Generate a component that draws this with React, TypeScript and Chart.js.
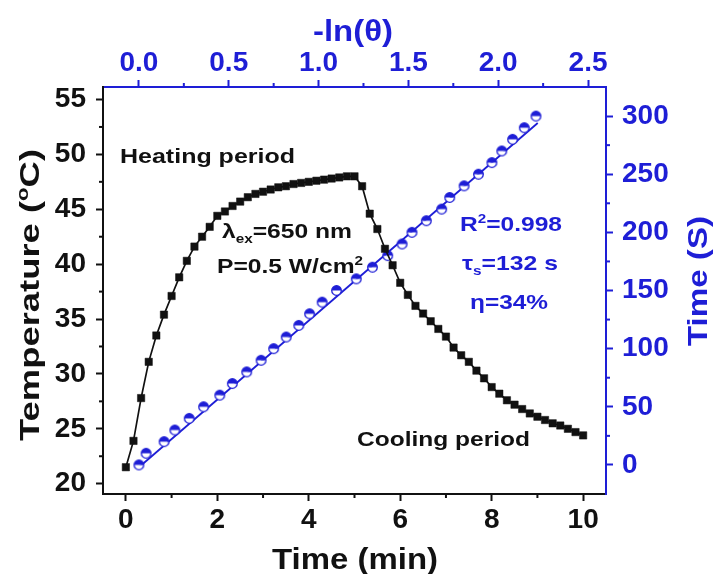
import React, { useEffect, useRef } from "react";
import { Chart, registerables } from "chart.js";
Chart.register(...registerables);

// ---------- data ----------
const timeSec = [
  0, 10, 20, 30, 40, 50, 60, 70, 80, 90, 100, 110, 120, 130, 140, 150, 160, 170, 180, 190, 200,
  210, 220, 230, 240, 250, 260, 270, 280, 290, 300, 310, 320, 330, 340, 350, 360, 370, 380, 390,
  400, 410, 420, 430, 440, 450, 460, 470, 480, 490, 500, 510, 520, 530, 540, 550, 560, 570, 580,
  590, 600,
];
const temperature = [
  21.5, 23.9, 27.8, 31.1, 33.5, 35.4, 37.1, 38.8, 40.3, 41.6, 42.5, 43.4, 44.4, 44.8, 45.3, 45.7,
  46.1, 46.4, 46.6, 46.8, 47.0, 47.1, 47.3, 47.4, 47.5, 47.6, 47.7, 47.8, 47.9, 48.0, 48.0,
  47.1, 44.6, 43.2, 41.4, 39.9, 38.3, 37.2, 36.2, 35.5, 34.8, 34.1, 33.4, 32.4, 31.7, 31.1, 30.3,
  29.6, 28.8, 28.2, 27.6, 27.2, 26.8, 26.4, 26.1, 25.8, 25.5, 25.3, 25.0, 24.7, 24.4,
];
const negLnTheta = [
  0.0, 0.04, 0.14, 0.2, 0.28, 0.36, 0.45, 0.52, 0.6, 0.68, 0.75, 0.82, 0.89, 0.95, 1.02, 1.1,
  1.21, 1.3, 1.385, 1.465, 1.52, 1.6, 1.685, 1.73, 1.81, 1.89, 1.965, 2.02, 2.08, 2.145, 2.21,
];
const coolTimeSec = [
  0, 10, 20, 30, 40, 50, 60, 70, 80, 90, 100, 110, 120, 130, 140, 150, 160, 170, 180, 190, 200,
  210, 220, 230, 240, 250, 260, 270, 280, 290, 300,
];
const fitX = [0.0, 2.22];
const fitY = [-2, 294];

const bottomTicks = [0, 2, 4, 6, 8, 10];
const bottomMinor = [1, 3, 5, 7, 9];
const topTicks = [0, 0.5, 1, 1.5, 2, 2.5];
const topMinor = [0.25, 0.75, 1.25, 1.75, 2.25];
const leftTicks = [20, 25, 30, 35, 40, 45, 50, 55];
const leftMinor = [22.5, 27.5, 32.5, 37.5, 42.5, 47.5, 52.5];
const rightTicks = [0, 50, 100, 150, 200, 250, 300];
const rightMinor = [25, 75, 125, 175, 225, 275];

// ---------- style ----------
const BLUE = "#1e1ed6";
const BLACK = "#111111";
const FONT = "'Liberation Sans', Arial, sans-serif";

type Seg = { t: string; s?: "sup" | "sub" };

function drawRich(
  ctx: CanvasRenderingContext2D,
  segs: Seg[],
  x: number,
  y: number,
  size: number,
  color: string,
  width: number,
  align: "left" | "center",
  rotate = false
) {
  ctx.save();
  ctx.fillStyle = color;
  ctx.textBaseline = "alphabetic";
  ctx.textAlign = "left";
  const fontFor = (s?: string) => `bold ${s ? Math.round(size * 0.62) : size}px ${FONT}`;
  let total = 0;
  const widths = segs.map((sg) => {
    ctx.font = fontFor(sg.s);
    const w = ctx.measureText(sg.t).width;
    total += w;
    return w;
  });
  const sx = width / total;
  ctx.translate(x, y);
  if (rotate) ctx.rotate(-Math.PI / 2);
  ctx.scale(sx, 1);
  let cx = align === "center" ? -total / 2 : 0;
  segs.forEach((sg, i) => {
    ctx.font = fontFor(sg.s);
    const dy = sg.s === "sup" ? -size * 0.4 : sg.s === "sub" ? size * 0.22 : 0;
    ctx.fillText(sg.t, cx, dy);
    cx += widths[i];
  });
  ctx.restore();
}

function halfCircle(): HTMLCanvasElement {
  const c = document.createElement("canvas");
  c.width = 13;
  c.height = 13;
  const g = c.getContext("2d")!;
  const r = 4.8;
  const m = 6.5;
  g.beginPath();
  g.arc(m, m, r, 0, Math.PI);
  g.fillStyle = "#ffffff";
  g.fill();
  g.beginPath();
  g.arc(m, m, r, Math.PI, 2 * Math.PI);
  g.closePath();
  g.fillStyle = BLUE;
  g.fill();
  g.beginPath();
  g.arc(m, m, r, 0, 2 * Math.PI);
  g.lineWidth = 1.3;
  g.strokeStyle = BLUE;
  g.stroke();
  return c;
}

const overlayPlugin = {
  id: "overlay",
  afterDraw(chart: any) {
    const ctx: CanvasRenderingContext2D = chart.ctx;
    const minor = (id: string, vals: number[], color: string) => {
      const s = chart.scales[id];
      ctx.save();
      ctx.strokeStyle = color;
      ctx.lineWidth = 2;
      vals.forEach((v) => {
        const p = s.getPixelForValue(v);
        ctx.beginPath();
        if (id === "x") {
          ctx.moveTo(p, s.top);
          ctx.lineTo(p, s.top + 4);
        } else if (id === "x2") {
          ctx.moveTo(p, s.bottom);
          ctx.lineTo(p, s.bottom - 4);
        } else if (id === "y") {
          ctx.moveTo(s.right, p);
          ctx.lineTo(s.right - 4, p);
        } else {
          ctx.moveTo(s.left, p);
          ctx.lineTo(s.left + 4, p);
        }
        ctx.stroke();
      });
      ctx.restore();
    };
    minor("x", bottomMinor, BLACK);
    minor("x2", topMinor, BLUE);
    minor("y", leftMinor, BLACK);
    minor("y2", rightMinor, BLUE);

    // axis titles
    drawRich(ctx, [{ t: "Time (min)" }], 355, 569, 30, BLACK, 166, "center");
    drawRich(ctx, [{ t: "-ln(θ)" }], 353, 41, 29, BLUE, 80, "center");
    drawRich(
      ctx,
      [{ t: "Temperature (" }, { t: "o", s: "sup" }, { t: "C)" }],
      39,
      295,
      28,
      BLACK,
      292,
      "center",
      true
    );
    drawRich(ctx, [{ t: "Time (S)" }], 707, 281, 28, BLUE, 130, "center", true);

    // annotations
    drawRich(ctx, [{ t: "Heating period" }], 120, 163, 21, BLACK, 175, "left");
    drawRich(ctx, [{ t: "Cooling period" }], 357, 446, 21, BLACK, 173, "left");
    drawRich(
      ctx,
      [{ t: "λ" }, { t: "ex", s: "sub" }, { t: "=650 nm" }],
      222,
      238,
      21,
      BLACK,
      130,
      "left"
    );
    drawRich(
      ctx,
      [{ t: "P=0.5 W/cm" }, { t: "2", s: "sup" }],
      217,
      273,
      21,
      BLACK,
      146,
      "left"
    );
    drawRich(
      ctx,
      [{ t: "R" }, { t: "2", s: "sup" }, { t: "=0.998" }],
      460,
      231,
      21,
      BLUE,
      102,
      "left"
    );
    drawRich(
      ctx,
      [{ t: "τ" }, { t: "s", s: "sub" }, { t: "=132 s" }],
      462,
      270,
      21,
      BLUE,
      96,
      "left"
    );
    drawRich(ctx, [{ t: "η=34%" }], 470, 309, 21, BLUE, 78, "left");
  },
};

function axisCommon(color: string, ticks: number[], fmt: (v: number) => string, pad: number) {
  return {
    type: "linear" as const,
    grid: {
      display: true,
      drawOnChartArea: false,
      drawTicks: true,
      tickLength: 7,
      tickWidth: 2,
      tickColor: color,
    },
    border: { display: true, color, width: 2 },
    ticks: {
      color,
      padding: pad,
      autoSkip: false,
      maxRotation: 0,
      font: { family: FONT, weight: "bold" as const, size: 28 },
      callback: (v: any) => fmt(Number(v)),
    },
    afterBuildTicks: (s: any) => {
      s.ticks = ticks.map((v) => ({ value: v }));
    },
  };
}

export default function App() {
  const ref = useRef<HTMLCanvasElement | null>(null);
  useEffect(() => {
    if (!ref.current) return;
    const tempPts = timeSec.map((s, i) => ({ x: s / 60, y: temperature[i] }));
    const coolPts = negLnTheta.map((v, i) => ({ x: v, y: coolTimeSec[i] }));
    const fitPts = fitX.map((v, i) => ({ x: v, y: fitY[i] }));
    const chart = new Chart(ref.current, {
      type: "line",
      data: {
        datasets: [
          {
            data: tempPts,
            xAxisID: "x",
            yAxisID: "y",
            borderColor: BLACK,
            borderWidth: 1.7,
            pointStyle: "rect",
            pointRadius: 5.2,
            pointBackgroundColor: BLACK,
            pointBorderColor: BLACK,
            pointBorderWidth: 0.5,
            tension: 0,
            order: 1,
          },
          {
            data: coolPts,
            xAxisID: "x2",
            yAxisID: "y2",
            showLine: false,
            pointStyle: halfCircle() as any,
            pointRadius: 6,
            order: 2,
          },
          {
            data: fitPts,
            xAxisID: "x2",
            yAxisID: "y2",
            borderColor: BLUE,
            borderWidth: 1.8,
            pointRadius: 0,
            order: 3,
          },
        ],
      },
      options: {
        animation: false,
        responsive: true,
        maintainAspectRatio: false,
        layout: { padding: 0 },
        plugins: { legend: { display: false }, tooltip: { enabled: false } },
        scales: {
          x: {
            ...axisCommon(BLACK, bottomTicks, (v) => String(v), 2),
            position: "bottom",
            min: -0.5,
            max: 10.5,
            afterFit: (s: any) => {
              s.height = 80;
            },
          },
          x2: {
            ...axisCommon(BLUE, topTicks, (v) => v.toFixed(1), 0),
            position: "top",
            min: -0.2,
            max: 2.6,
            afterFit: (s: any) => {
              s.height = 87;
            },
          },
          y: {
            ...axisCommon(BLACK, leftTicks, (v) => String(v), 10),
            position: "left",
            min: 19.06,
            max: 56.14,
            afterFit: (s: any) => {
              s.width = 103;
            },
          },
          y2: {
            ...axisCommon(BLUE, rightTicks, (v) => String(v), 9),
            position: "right",
            min: -25,
            max: 325,
            afterFit: (s: any) => {
              s.width = 114;
            },
          },
        } as any,
      },
      plugins: [overlayPlugin],
    });
    return () => chart.destroy();
  }, []);
  return (
    <div style={{ position: "absolute", left: 0, top: 0, width: 720, height: 574, background: "#fff" }}>
      <canvas ref={ref} />
    </div>
  );
}
